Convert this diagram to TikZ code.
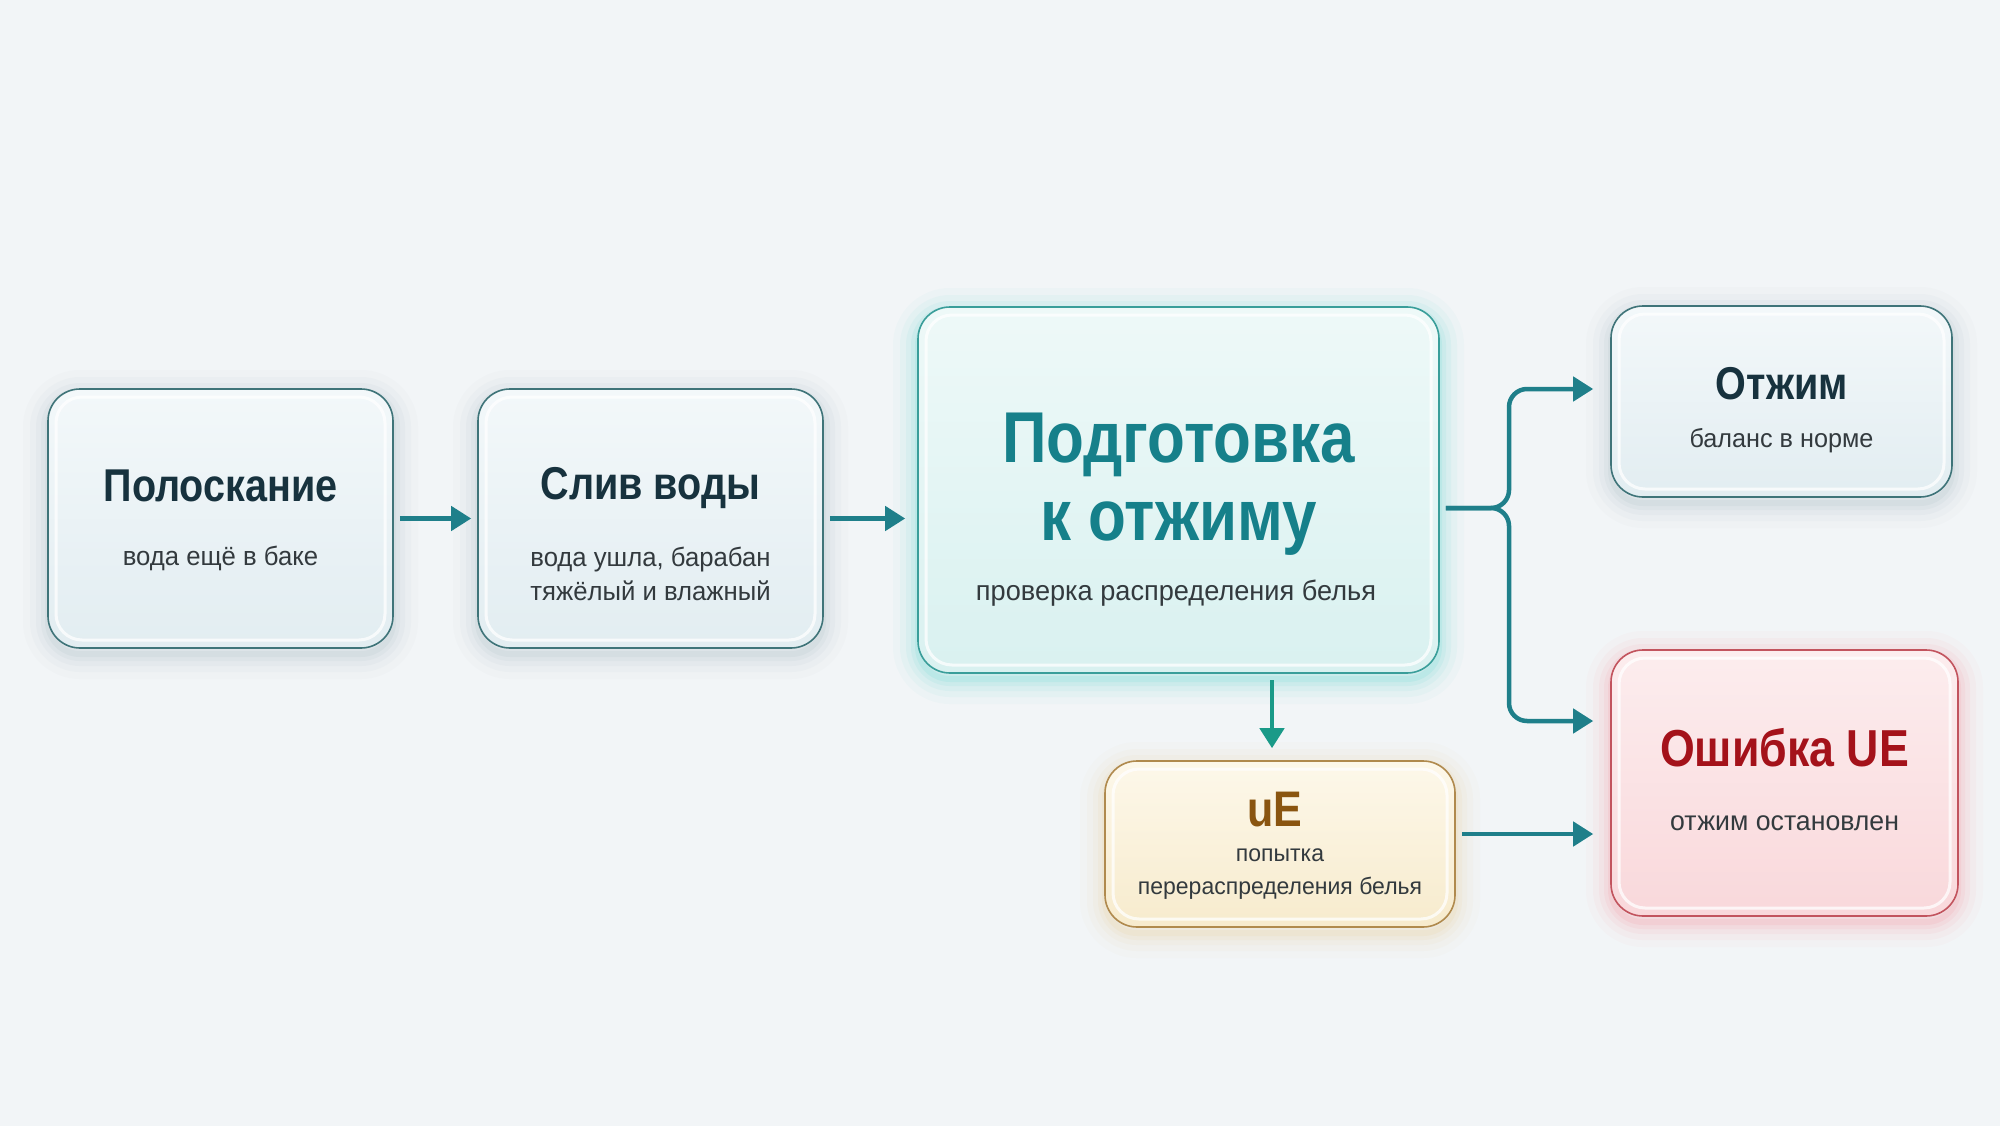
\documentclass[tikz,border=0pt]{standalone}
\usepackage{fontspec}
\setmainfont{Liberation Sans}
\newfontfamily\ttl{Liberation Sans}[FakeStretch=0.86]
\newfontfamily\sub{Liberation Sans}[FakeStretch=0.97]
\usetikzlibrary{arrows.meta}
\definecolor{bgc}{HTML}{F2F5F7}
\definecolor{navy}{HTML}{17323E}
\definecolor{tealT}{HTML}{16808A}
\definecolor{redT}{HTML}{A4121A}
\definecolor{brownT}{HTML}{8A5510}
\definecolor{subT}{HTML}{333A3E}
\definecolor{bBord}{HTML}{3F7479}
\definecolor{bFill}{HTML}{E2EDF1}
\definecolor{bTop}{HTML}{F3F8FA}
\definecolor{cBord}{HTML}{3A9E9A}
\definecolor{cFill}{HTML}{D9F1F0}
\definecolor{cTop}{HTML}{EEF9F8}
\definecolor{cGlow}{HTML}{4FD3CB}
\definecolor{rBord}{HTML}{C2545E}
\definecolor{rFill}{HTML}{F9D8DB}
\definecolor{rTop}{HTML}{FCEDEE}
\definecolor{rGlow}{HTML}{F2868E}
\definecolor{yBord}{HTML}{B08A4E}
\definecolor{yFill}{HTML}{F7EBCD}
\definecolor{yTop}{HTML}{FDF8EA}
\definecolor{yGlow}{HTML}{E8C98A}
\definecolor{sGlow}{HTML}{9FB3BC}
\definecolor{arrT}{HTML}{1F7F8A}
\definecolor{arrG}{HTML}{1A9A88}
\tikzset{
  conn/.style={line width=4.5pt, draw=arrT, -{Triangle[length=20pt,width=24pt]}},
  title/.style={font=\ttl\bfseries\fontsize{46}{50}\selectfont, text=navy, inner sep=0},
  subt/.style={font=\sub\fontsize{26.5}{34}\selectfont, text=subT, align=center, inner sep=0},
}
% #1 name, #2 cx, #3 cy, #4 w, #5 h, #6 top, #7 fill, #8 border, #9 glow
\newcommand\glassbox[9]{%
  \foreach \lw/\op in {50/0.035,36/0.05,24/0.07,14/0.09,6/0.12}{%
    \draw[draw=#9, line width=\lw pt, opacity=\op, rounded corners=32pt]
      ({#2-#4/2},{#3-#5/2+6}) rectangle ({#2+#4/2},{#3+#5/2+6});}
  \node[draw=#8, line width=1.6pt, rounded corners=32pt, top color=#6, bottom color=#7,
        minimum width=#4pt, minimum height=#5pt, inner sep=0] (#1) at (#2,#3) {};
  \draw[white, line width=3pt, opacity=0.75, rounded corners=26pt]
      ({#2-#4/2+8},{#3-#5/2+8}) rectangle ({#2+#4/2-8},{#3+#5/2-8});
}
\begin{document}
\begin{tikzpicture}[x=1pt,y=-1pt]
\fill[bgc] (0,0) rectangle (2000,1126);
\useasboundingbox (0,0) rectangle (2000,1126);

\glassbox{b1}{220.5}{518.5}{345}{259}{bTop}{bFill}{bBord}{sGlow}
\glassbox{b2}{650.5}{518.5}{345}{259}{bTop}{bFill}{bBord}{sGlow}
\glassbox{b3}{1178.5}{490}{521}{366}{cTop}{cFill}{cBord}{cGlow}
\glassbox{b4}{1781.5}{401.5}{341}{191}{bTop}{bFill}{bBord}{sGlow}
\glassbox{b5}{1784.5}{783}{347}{266}{rTop}{rFill}{rBord}{rGlow}
\glassbox{b6}{1280}{844}{350}{166}{yTop}{yFill}{yBord}{yGlow}

% connectors
\draw[conn, shorten <=6pt, shorten >=6pt] (b1.east) -- (b2.west);
\draw[conn, shorten <=6pt, shorten >=12pt] (b2.east) -- (b2.east -| b3.west);
\coordinate (fork) at (1509,508);
\draw[conn, rounded corners=18pt, shorten <=6pt, shorten >=17pt]
  (b3.east |- fork) -- (fork) -- (fork |- 0,389) -- (b4.west |- 0,389);
\draw[conn, rounded corners=18pt, shorten <=6pt, shorten >=17pt]
  (b3.east |- fork) -- (fork) -- (fork |- 0,721) -- (b5.west |- 0,721);
\coordinate (dtop) at (1272,680);
\draw[conn, draw=arrG, shorten >=12pt] (dtop) -- (dtop |- b6.north);
\coordinate (ue) at (1462,834);
\draw[conn, shorten >=17pt] (ue) -- (ue -| b5.west);

% texts
\node[title] (t1) at (220.5,486) {Полоскание};
\node[subt] (s1) at (220.5,558) {вода ещё в баке};
\node[title] (t2) at (650.5,488) {Слив воды};
\node[subt] (s2) at (650.5,574) {вода ушла, барабан\\тяжёлый и влажный};
\node[title, text=tealT, font=\ttl\bfseries\fontsize{72}{78}\selectfont, align=center] (t3) at (1178.5,484) {Подготовка\\к отжиму};
\node[subt, font=\sub\fontsize{28}{34}\selectfont] (s3) at (1176,593) {проверка распределения белья};
\node[title] (t4) at (1781.5,384) {Отжим};
\node[subt, font=\sub\fontsize{26}{34}\selectfont] (s4) at (1781.5,441) {баланс в норме};
\node[title, text=redT, font=\ttl\bfseries\fontsize{52}{56}\selectfont] (t5) at (1784.5,748) {Ошибка UE};
\node[subt, font=\sub\fontsize{27.5}{34}\selectfont] (s5) at (1784.5,823) {отжим остановлен};
\node[title, text=brownT, font=\ttl\bfseries\fontsize{50}{54}\selectfont] (t6) at (1275,810) {uE};
\node[subt, font=\sub\fontsize{23.7}{33}\selectfont] (s6) at (1280,874) {попытка\\перераспределения белья};
\end{tikzpicture}
\end{document}
